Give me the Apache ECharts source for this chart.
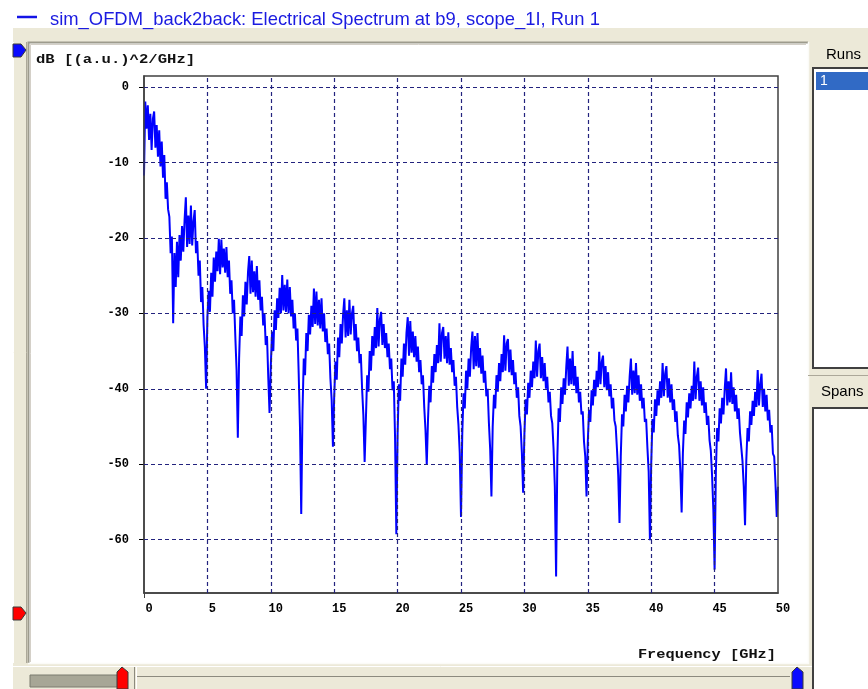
<!DOCTYPE html>
<html>
<head>
<meta charset="utf-8">
<title>sim_OFDM_back2back: Electrical Spectrum at b9</title>
<script src="https://cdn.jsdelivr.net/npm/echarts@6/dist/echarts.min.js"></script>
<style>
html, body { margin: 0; padding: 0; background: #fff; }
#chart { width: 868px; height: 689px; }
</style>
</head>
<body>
<div id="chart"></div>
<script>
// spectrum, one value every 0.1 GHz from 0 to 50 GHz
const freqStart = 0
const freqStep = 0.1
const spectrumDb = [
  // 0.0 - 2.3
  -11.7, -1.9, -5.5, -2.4, -7.0, -3.5, -8.3, -4.2, -3.2, -8.0, -5.0, -9.2,
  -5.7, -10.5, -7.2, -12.0, -9.0, -14.8, -12.6, -16.2, -17.2, -22.0, -19.8, -31.3,
  // 2.4 - 4.9
  -22.0, -26.5, -20.5, -25.2, -19.6, -23.0, -18.4, -21.8, -17.6, -14.6, -21.2, -17.0, -20.8,
  -15.7, -21.0, -17.8, -16.3, -22.0, -20.4, -25.0, -23.0, -28.5, -26.5, -31.5, -34.5, -40.0,
  // 5.0 - 7.4
  -30.5, -27.0, -29.8, -24.6, -27.8, -22.6, -25.8, -21.8, -24.4, -20.1, -24.8, -20.2, -23.9,
  -21.4, -24.6, -21.2, -25.2, -23.0, -27.4, -25.6, -30.0, -28.2, -33.0, -37.5, -46.5,
  // 7.5 - 9.9
  -36.0, -30.4, -33.0, -27.6, -30.4, -25.8, -28.8, -24.6, -22.4, -27.4, -23.0, -27.2, -24.4,
  -27.8, -23.7, -28.2, -25.6, -29.6, -27.8, -31.6, -30.0, -34.2, -33.0, -38.5, -43.2,
  // 10.0 - 12.4
  -37.0, -32.4, -35.0, -29.6, -32.2, -28.0, -30.6, -26.6, -30.0, -24.9, -29.6, -26.2, -29.8,
  -25.5, -30.0, -26.5, -30.4, -28.2, -32.0, -30.0, -33.6, -32.0, -38.0, -45.0, -56.6,
  // 12.5 - 14.9
  -43.0, -36.0, -38.2, -32.6, -35.0, -30.2, -32.8, -29.0, -31.8, -26.7, -31.4, -27.1, -31.6,
  -28.2, -32.0, -28.0, -32.4, -30.0, -33.8, -32.0, -35.4, -34.0, -38.6, -41.5, -47.7,
  // 15.0 - 17.4
  -41.0, -36.4, -38.8, -33.2, -35.8, -31.4, -34.0, -30.2, -28.0, -33.2, -29.6, -33.0, -28.2,
  -32.8, -30.0, -29.0, -33.6, -31.4, -35.0, -33.2, -36.6, -35.4, -40.0, -43.5, -49.7,
  // 17.5 - 19.9
  -44.0, -38.2, -40.4, -35.0, -37.6, -33.0, -35.6, -31.8, -34.6, -29.3, -34.4, -30.8, -29.8,
  -34.2, -31.4, -34.6, -32.6, -35.8, -34.0, -37.4, -36.0, -40.2, -39.0, -46.5, -59.3,
  // 20.0 - 22.3
  -46.0, -39.4, -41.6, -36.0, -38.4, -34.0, -36.8, -32.6, -30.5, -35.6, -31.0, -35.2,
  -32.4, -35.8, -33.0, -36.4, -34.4, -37.8, -36.2, -39.4, -38.2, -42.4, -45.5, -50.1,
  // 22.4 - 25.0
  -44.0, -39.6, -41.8, -37.0, -39.2, -35.4, -37.8, -34.2, -36.6, -31.3, -36.4, -32.6, -31.8, -36.0,
  -33.0, -36.6, -32.5, -36.8, -34.6, -37.8, -36.2, -39.6, -38.4, -42.4, -44.8, -48.5, -57.0,
  // 25.1 - 27.4
  -46.0, -40.6, -42.6, -37.6, -40.0, -36.0, -38.4, -34.6, -32.4, -37.4, -33.0, -37.0,
  -32.6, -37.2, -34.6, -38.0, -35.6, -39.2, -37.6, -41.0, -40.0, -44.5, -48.0, -54.3,
  // 27.5 - 29.9
  -45.0, -40.8, -42.6, -38.2, -40.4, -36.6, -39.0, -35.4, -37.8, -32.9, -37.6, -34.0, -33.4,
  -37.8, -34.8, -38.2, -36.2, -39.4, -37.8, -41.2, -39.8, -43.6, -45.0, -48.5, -53.8,
  // 30.0 - 32.5
  -46.0, -41.4, -43.4, -39.2, -41.2, -37.6, -39.8, -36.4, -38.6, -33.6, -38.4, -35.0, -34.0,
  -38.6, -35.8, -39.0, -36.6, -40.0, -38.4, -41.8, -40.4, -43.6, -44.6, -48.0, -53.0, -64.9,
  // 32.6 - 34.9
  -49.0, -42.6, -44.4, -39.8, -42.0, -38.6, -40.8, -37.2, -34.4, -39.6, -36.0, -39.4,
  -35.0, -39.6, -37.0, -40.6, -38.4, -41.8, -40.4, -43.4, -43.0, -47.0, -49.0, -54.3,
  // 35.0 - 37.5
  -47.0, -42.8, -44.4, -40.2, -42.2, -38.8, -41.0, -37.6, -39.8, -35.1, -39.4, -36.4, -35.6,
  -39.8, -37.0, -40.2, -37.8, -41.0, -39.4, -42.6, -41.2, -44.2, -45.0, -48.0, -51.5, -57.8,
  // 37.6 - 39.9
  -49.0, -43.4, -45.0, -40.8, -43.0, -39.6, -41.8, -38.4, -36.0, -40.8, -37.6, -40.6,
  -36.6, -40.8, -38.2, -41.6, -39.4, -42.6, -41.2, -44.4, -44.0, -47.8, -51.0, -60.1,
  // 40.0 - 42.4
  -50.0, -44.0, -45.8, -41.4, -43.6, -40.2, -42.2, -39.0, -41.2, -36.6, -41.0, -38.0, -37.0,
  -41.2, -38.6, -41.8, -39.4, -42.8, -41.4, -44.4, -43.0, -46.2, -47.5, -51.0, -56.4,
  // 42.5 - 45.0
  -48.5, -44.2, -46.0, -41.8, -43.8, -40.6, -42.6, -39.6, -41.6, -36.4, -41.4, -38.4, -37.2,
  -41.6, -39.0, -42.2, -39.8, -43.2, -41.8, -44.8, -43.6, -46.8, -48.2, -51.5, -56.0, -64.0,
  // 45.1 - 47.4
  -51.0, -45.2, -47.0, -42.6, -44.6, -41.2, -43.4, -40.0, -37.3, -42.2, -39.0, -41.8,
  -37.8, -42.0, -39.8, -43.0, -40.8, -44.0, -42.6, -45.8, -45.6, -49.6, -53.0, -58.1,
  // 47.5 - 50.0
  -49.5, -45.2, -47.0, -43.0, -44.8, -41.6, -43.6, -40.4, -42.4, -37.5, -42.2, -39.4, -38.0,
  -42.4, -40.0, -43.0, -40.8, -44.2, -42.8, -45.8, -44.8, -48.6, -49.0, -52.5, -57.0, -53.0
]

const yTickValues = [0, -10, -20, -30, -40, -50, -60]
const xGridValues = [5, 10, 15, 20, 25, 30, 35, 40, 45]

const titleText = 'sim_OFDM_back2back: Electrical Spectrum at b9, scope_1I, Run 1'
const yAxisName = 'dB [(a.u.)^2/GHz]'
const xAxisName = 'Frequency [GHz]'

const lineColor = '#0000ff'
const gridColor = '#23237e'
const monoFont = '"Liberation Mono", "DejaVu Sans Mono", monospace'
const uiFont = '"Liberation Sans", "DejaVu Sans", Arial, sans-serif'

const chart = echarts.init(document.getElementById('chart'), null, { renderer: 'canvas' })

// window chrome around the plot (panel, sliders, run list)
const chrome = [
  { type: 'rect', shape: { x: 13, y: 28, width: 855, height: 661 }, style: { fill: '#ece9d8' } },
  // white plot panel, sunken border
  { type: 'rect', shape: { x: 28, y: 42, width: 780, height: 621 }, style: { fill: '#ffffff' } },
  { type: 'polyline', shape: { points: [[28.5, 663], [28.5, 42.5], [808, 42.5]] }, style: { stroke: '#9d9b8d', lineWidth: 2, fill: null } },
  { type: 'polyline', shape: { points: [[30.5, 662], [30.5, 44.5], [806, 44.5]] }, style: { stroke: '#d4d0c8', lineWidth: 1, fill: null } },
  { type: 'polyline', shape: { points: [[28, 663.5], [808.5, 663.5], [808.5, 42]] }, style: { stroke: '#fbfbf7', lineWidth: 1.5, fill: null } },
  // left vertical slider strip
  { type: 'line', shape: { x1: 13.5, y1: 42, x2: 13.5, y2: 663 }, style: { stroke: '#ffffff', lineWidth: 1 } },
  { type: 'line', shape: { x1: 26.5, y1: 42, x2: 26.5, y2: 663 }, style: { stroke: '#aca899', lineWidth: 1 } },
  { type: 'polygon', shape: { points: [[13, 44], [21, 44], [26, 50], [21, 57], [13, 57]] }, style: { fill: '#0a0aff', stroke: '#3a3a3a', lineWidth: 1 } },
  { type: 'polygon', shape: { points: [[13, 607], [21, 607], [26, 613], [21, 620], [13, 620]] }, style: { fill: '#ff0000', stroke: '#3a3a3a', lineWidth: 1 } },
  // bottom horizontal slider
  { type: 'line', shape: { x1: 13, y1: 666.5, x2: 868, y2: 666.5 }, style: { stroke: '#ffffff', lineWidth: 1 } },
  { type: 'rect', shape: { x: 30, y: 675, width: 88, height: 12 }, style: { fill: '#a7a696', stroke: '#7b7a6e', lineWidth: 1 } },
  { type: 'line', shape: { x1: 136, y1: 676.5, x2: 790, y2: 676.5 }, style: { stroke: '#8c8a7e', lineWidth: 1 } },
  { type: 'line', shape: { x1: 134.5, y1: 667, x2: 134.5, y2: 689 }, style: { stroke: '#8c8a7e', lineWidth: 1 } },
  { type: 'line', shape: { x1: 136.5, y1: 667, x2: 136.5, y2: 689 }, style: { stroke: '#ffffff', lineWidth: 1 } },
  { type: 'polygon', shape: { points: [[117, 689], [117, 672], [122, 667], [128, 672], [128, 689]] }, style: { fill: '#ff0000', stroke: '#3a3a3a', lineWidth: 1 } },
  { type: 'polygon', shape: { points: [[792, 689], [792, 672], [797, 667], [803, 672], [803, 689]] }, style: { fill: '#0a0aff', stroke: '#3a3a3a', lineWidth: 1 } },
  // runs / spans list boxes
  { type: 'text', x: 826, y: 55, style: { text: 'Runs', font: '15px ' + uiFont, fill: '#000', textVerticalAlign: 'middle' } },
  { type: 'rect', shape: { x: 813, y: 68, width: 60, height: 300 }, style: { fill: '#ffffff', stroke: '#404040', lineWidth: 2 } },
  { type: 'rect', shape: { x: 816, y: 72, width: 55, height: 18 }, style: { fill: '#316ac5' } },
  { type: 'text', x: 820, y: 81, style: { text: '1', font: '14px ' + uiFont, fill: '#ffffff', textVerticalAlign: 'middle' } },
  { type: 'line', shape: { x1: 808, y1: 375.5, x2: 868, y2: 375.5 }, style: { stroke: '#aca899', lineWidth: 1 } },
  { type: 'text', x: 821, y: 392, style: { text: 'Spans', font: '15px ' + uiFont, fill: '#000', textVerticalAlign: 'middle' } },
  { type: 'rect', shape: { x: 813, y: 408, width: 60, height: 290 }, style: { fill: '#ffffff', stroke: '#404040', lineWidth: 2 } },
  // legend line in front of title
  { type: 'line', shape: { x1: 17, y1: 17, x2: 37, y2: 17 }, style: { stroke: '#1414e6', lineWidth: 2.5 } },
  // axis names
  { type: 'text', x: 36, y: 60, scaleX: 1.2, style: { text: yAxisName, font: 'bold 13px ' + monoFont, fill: '#111', textVerticalAlign: 'middle' } },
  { type: 'text', x: 776, y: 655, scaleX: 1.18, style: { text: xAxisName, font: 'bold 13px ' + monoFont, fill: '#111', textAlign: 'right', textVerticalAlign: 'middle' } }
]

const option = {
  animation: false,
  backgroundColor: '#ffffff',
  title: {
    text: titleText,
    left: 45,
    top: 6,
    textStyle: { fontFamily: uiFont, fontSize: 18.4, fontWeight: 'normal', color: '#1b1be0' }
  },
  graphic: { elements: chrome },
  grid: {
    left: 144,
    right: 90,
    top: 76,
    bottom: 96,
    show: true,
    borderColor: '#404040',
    borderWidth: 1.5,
    z: 3
  },
  xAxis: {
    type: 'value',
    min: 0,
    max: 50,
    interval: 5,
    axisLine: { show: true, onZero: false, lineStyle: { color: '#404040', width: 1.5 } },
    axisTick: { show: true, customValues: [0], length: 5, lineStyle: { color: '#404040' } },
    axisLabel: { margin: 10, padding: [0, 0, 0, 10], color: '#000', fontFamily: monoFont, fontSize: 12, fontWeight: 'bold' },
    splitLine: { show: false }
  },
  yAxis: {
    type: 'value',
    min: -67.1,
    max: 1.5,
    axisLine: { show: true, onZero: false, lineStyle: { color: '#404040', width: 1.5 } },
    axisTick: { show: true, customValues: yTickValues, length: 5, lineStyle: { color: '#000' } },
    axisLabel: { customValues: yTickValues, margin: 15, color: '#000', fontFamily: monoFont, fontSize: 12, fontWeight: 'bold' },
    splitLine: { show: false }
  },
  series: [
    {
      // dashed grid
      type: 'line',
      data: [],
      silent: true,
      z: 1,
      markLine: {
        silent: true,
        symbol: ['none', 'none'],
        label: { show: false },
        lineStyle: { color: gridColor, type: [4, 3], width: 1.2 },
        data: yTickValues.map(v => ({ yAxis: v })).concat(xGridValues.map(v => ({ xAxis: v })))
      }
    },
    {
      name: 'Electrical Spectrum',
      type: 'line',
      z: 2,
      showSymbol: false,
      sampling: 'none',
      lineStyle: { color: lineColor, width: 2 },
      data: spectrumDb.map((v, i) => [+(freqStart + i * freqStep).toFixed(1), v])
    }
  ]
}

chart.setOption(option)
</script>
</body>
</html>
